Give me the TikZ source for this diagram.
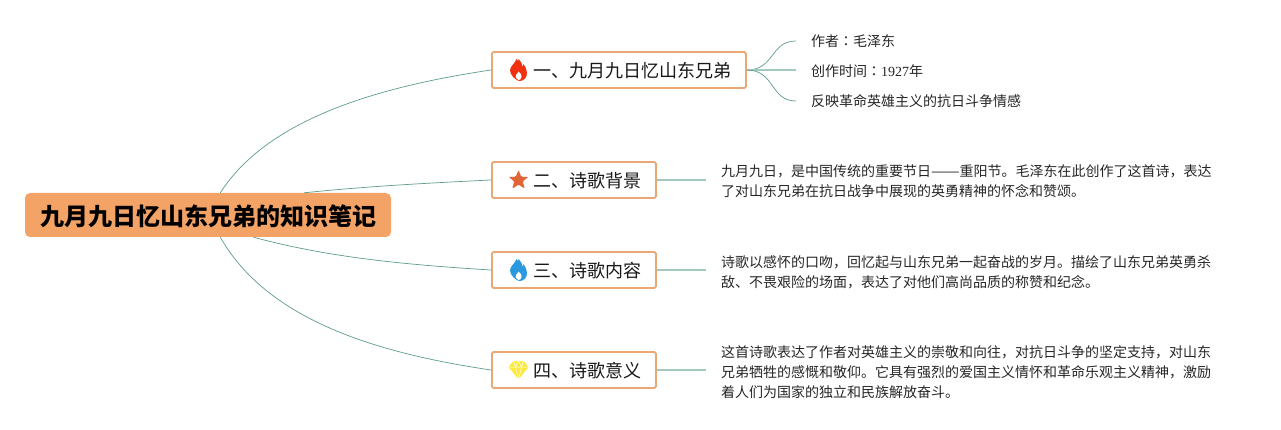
\documentclass[tikz,border=0pt]{standalone}
\usepackage{fontspec}
\setmainfont{Noto Sans CJK SC}
\newfontfamily\digitfont{Liberation Serif}
\newfontfamily\colonfont{Noto Sans CJK TC}
\newfontfamily\dashfont[FakeStretch=1.22]{Noto Sans CJK SC}
\usetikzlibrary{positioning}
\definecolor{rootorange}{HTML}{F4A366}
\definecolor{boxorange}{HTML}{E8A775}
\definecolor{linkgreen}{HTML}{5E9C8A}
\definecolor{leafgreen}{HTML}{A3C8BE}
\newcommand{\zhcomma}{\symbol{"FF0C}}
\newcommand{\zhcolon}{{\colonfont\symbol{"FF1A}}}
\tikzset{
  rootnode/.style={fill=rootorange, rounded corners=5pt, minimum width=366pt, minimum height=44pt, inner sep=0pt, text height=24pt, text depth=3.8pt, font=\fontsize{24}{24}\selectfont\bfseries, text=black},
  branchnode/.style={draw=boxorange, line width=1.8pt, fill=white, rounded corners=1.5pt, minimum height=36pt, inner xsep=14pt, inner ysep=0pt, text height=19pt, text depth=3.3pt, font=\fontsize{18}{18}\selectfont, text=black!90},
  leafnode/.style={align=left, inner xsep=15pt, inner ysep=0pt, font=\fontsize{14}{20}\selectfont, text=black!85},
  mainlink/.style={draw=linkgreen, line width=0.7pt},
  leaflink/.style={draw=leafgreen, line width=1.2pt},
  flame/.pic={
    \fill[pic actions] (1,11) .. controls (-2,11) and (-9,5) .. (-8.5,0) .. controls (-8,-4) and (-4,-6) .. (-2,-11) .. controls (-1,-9) and (0,-8) .. (0,-11) .. controls (3,-8) and (4,-5) .. (4,-3) .. controls (5,-4) and (5,-5) .. (5,-6) .. controls (7,-3) and (8.5,0) .. (8.5,3) .. controls (8.5,8) and (5,11) .. (1,11) -- cycle;
    \fill[white] (0,10) .. controls (-2.5,9.5) and (-3.5,7) .. (-2.5,5) .. controls (-2,4) and (-0.5,3.5) .. (0,1.5) .. controls (2,3) and (3.5,5) .. (3,7) .. controls (2.7,9) and (1.5,10) .. (0,10) -- cycle;
  },
  staricon/.pic={
    \fill[pic actions, rounded corners=1pt] (0,-10) -- (2.7,-3.3) -- (9.8,-3.1) -- (4.3,1.4) -- (6.2,8.6) -- (0,4.6) -- (-6.2,8.6) -- (-4.3,1.4) -- (-9.8,-3.1) -- (-2.7,-3.3) -- cycle;
  },
  gemicon/.pic={
    \fill[pic actions] (-5,-9) -- (5,-9) -- (10,-3) -- (0,9.5) -- (-10,-3) -- cycle;
    \draw[white, line width=0.5pt] (-10,-3) -- (10,-3) (-5,-9) -- (-3,-3) -- (0,9.5) -- (3,-3) -- (5,-9) (-3,-3) -- (0,-9) -- (3,-3);
  }
}
\begin{document}
\begin{tikzpicture}[x=1pt, y=-1pt]
  \useasboundingbox (0,0) rectangle (1281,430);

  \node[rootnode] (root) at (208,215) {九月九日忆山东兄弟的知识笔记};

  \node[branchnode, anchor=west] (first) at (491,70) {\hspace*{28pt}一、九月九日忆山东兄弟};
  \node[branchnode, anchor=west] (second) at (491,180) {\hspace*{28pt}二、诗歌背景};
  \node[branchnode, anchor=west] (third) at (491,270) {\hspace*{28pt}三、诗歌内容};
  \node[branchnode, anchor=west] (fourth) at (491,370) {\hspace*{28pt}四、诗歌意义};

  % icons
  \pic[fill={rgb,255:red,240;green,48;blue,16}] at ([xshift=27.5pt]first.west) {flame};
  \pic[fill={rgb,255:red,225;green,100;blue,55}] at ([xshift=27.5pt]second.west) {staricon};
  \pic[fill={rgb,255:red,42;green,154;blue,224}] at ([xshift=27.5pt]third.west) {flame};
  \pic[fill={rgb,255:red,253;green,232;blue,60}] at ([xshift=27.5pt]fourth.west) {gemicon};

  % leaves
  \node[leafnode, anchor=west] (author) at (796,41) {作者\zhcolon 毛泽东};
  \node[leafnode, anchor=west] (date) at (796,71) {创作时间\zhcolon{\digitfont 1927}年};
  \node[leafnode, anchor=west] (theme) at (796,101) {反映革命英雄主义的抗日斗争情感};
  \node[leafnode, right=49pt of second, yshift=-1pt] (background) {九月九日\zhcomma 是中国传统的重要节日{\dashfont ——}重阳节。毛泽东在此创作了这首诗\zhcomma 表达\\了对山东兄弟在抗日战争中展现的英勇精神的怀念和赞颂。};
  \node[leafnode, right=49pt of third, yshift=-2pt] (content) {诗歌以感怀的口吻\zhcomma 回忆起与山东兄弟一起奋战的岁月。描绘了山东兄弟英勇杀\\敌、不畏艰险的场面\zhcomma 表达了对他们高尚品质的称赞和纪念。};
  \node[leafnode, right=49pt of fourth, yshift=-2pt] (meaning) {这首诗歌表达了作者对英雄主义的崇敬和向往\zhcomma 对抗日斗争的坚定支持\zhcomma 对山东\\兄弟牺牲的感慨和敬仰。它具有强烈的爱国主义情怀和革命乐观主义精神\zhcomma 激励\\着人们为国家的独立和民族解放奋斗。};

  % links
  \draw[mainlink] (root.61) .. controls (270,115) and (390,85) .. (first.west);
  \draw[mainlink] (root.13) .. controls (370,186) and (430,183) .. (second.west);
  \draw[mainlink] (root.-26) .. controls (330,258) and (410,265) .. (third.west);
  \draw[mainlink] (root.-61) .. controls (270,325) and (390,355) .. (fourth.west);

  \draw[mainlink] (first.east) .. controls (775,70) and (770,41) .. (author.west);
  \draw[leaflink] (first.east) -- (date.west |- first.east);
  \draw[mainlink] (first.east) .. controls (775,70) and (770,101) .. (theme.west);
  \draw[leaflink] (second) -- (background.west |- second);
  \draw[leaflink] (third) -- (content.west |- third);
  \draw[leaflink] (fourth) -- (meaning.west |- fourth);
\end{tikzpicture}
\end{document}
